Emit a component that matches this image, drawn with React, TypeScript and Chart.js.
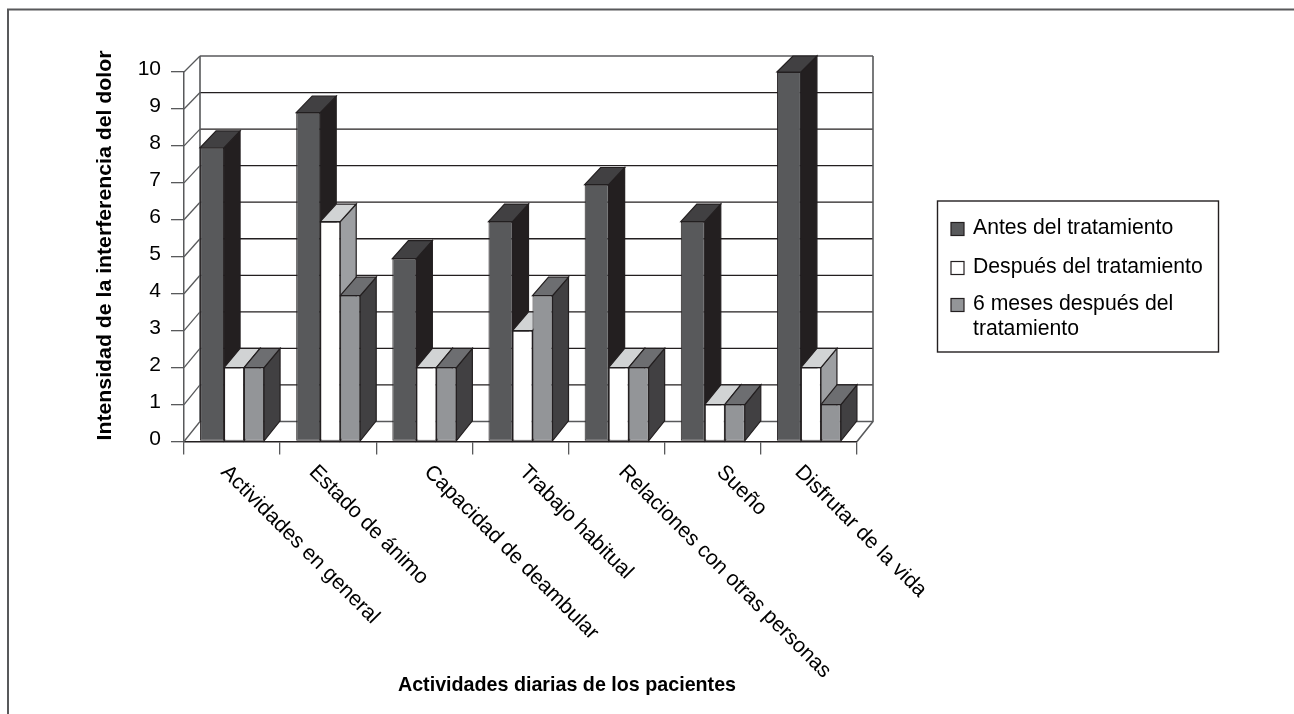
import React, { useEffect, useRef } from "react";
import { Chart, registerables } from "chart.js";

Chart.register(...registerables);

const categories = [
  "Actividades en general",
  "Estado de ánimo",
  "Capacidad de deambular",
  "Trabajo habitual",
  "Relaciones con otras personas",
  "Sueño",
  "Disfrutar de la vida",
];
const antes = [7.95, 8.9, 4.95, 5.95, 6.95, 5.95, 10];
const despues = [2, 5.95, 2, 3, 2, 1, 2];
const seisMeses = [2, 3.95, 2, 3.95, 2, 1, 1];
const seriesNames = ["Antes del tratamiento", "Después del tratamiento", "6 meses después del tratamiento"];
const yTitle = "Intensidad de la interferencia del dolor";
const xTitle = "Actividades diarias de los pacientes";

const FONT = '"Liberation Sans", Arial, sans-serif';
const INK = "#231f20";
const FRAME = "#58595b";
const front = ["#58595b", "#ffffff", "#939598"];
const side = ["#231f20", "#9d9fa2", "#414042"];
const top = ["#414042", "#d1d3d4", "#6d6e71"];
const barWidths = [24, 20, 20];
const labelNudge = [-12, -20, -1, -2, 1, 3, -15];
const depthX = 16;
const depthY = (v: number) => 20 - 0.4 * v;

const poly = (ctx: CanvasRenderingContext2D, pts: number[][], fill: string) => {
  ctx.beginPath();
  pts.forEach(([x, y], i) => (i ? ctx.lineTo(x, y) : ctx.moveTo(x, y)));
  ctx.closePath();
  ctx.fillStyle = fill;
  ctx.fill();
  ctx.strokeStyle = INK;
  ctx.lineWidth = 1.2;
  ctx.stroke();
};

const threeD = {
  id: "threeD",
  afterDatasetsUpdate(chart: any) {
    const gap = barWidths.reduce((a, b) => a + b, 0);
    categories.forEach((_, i) => {
      let left = chart.scales.x.getPixelForValue(i) - gap / 2;
      barWidths.forEach((w, d) => {
        const el = chart.getDatasetMeta(d).data[i];
        el.width = w;
        el.x = left + w / 2;
        left += w;
      });
    });
  },
  beforeDraw(chart: any) {
    const { ctx, width, height } = chart;
    ctx.save();
    ctx.fillStyle = "#fff";
    ctx.fillRect(0, 0, width, height);
    ctx.strokeStyle = FRAME;
    ctx.lineWidth = 2;
    ctx.beginPath();
    ctx.moveTo(8, height);
    ctx.lineTo(8, 9.5);
    ctx.lineTo(width, 9.5);
    ctx.stroke();
    ctx.restore();
  },
  beforeDatasetsDraw(chart: any) {
    const { ctx, chartArea: a, scales } = chart;
    const y = scales.y;
    const backY = (v: number) => y.getPixelForValue(v) - depthY(v);
    ctx.save();
    // gridlines on the back wall and the left wall
    y.ticks.forEach((t: any) => {
      const v = t.value;
      ctx.strokeStyle = v === 0 || v === 10 ? FRAME : INK;
      ctx.lineWidth = 1.3;
      ctx.beginPath();
      ctx.moveTo(a.left + depthX, backY(v));
      ctx.lineTo(a.right + depthX, backY(v));
      ctx.stroke();
      ctx.strokeStyle = FRAME;
      ctx.beginPath();
      ctx.moveTo(a.left, y.getPixelForValue(v));
      ctx.lineTo(a.left + depthX, backY(v));
      ctx.stroke();
    });
    ctx.strokeStyle = FRAME;
    ctx.lineWidth = 1.6;
    ctx.beginPath();
    ctx.moveTo(a.left + depthX, backY(10));
    ctx.lineTo(a.left + depthX, backY(0));
    ctx.moveTo(a.right + depthX, backY(10));
    ctx.lineTo(a.right + depthX, backY(0));
    ctx.lineTo(a.right, y.getPixelForValue(0));
    ctx.stroke();
    // side and top faces of the bars, painted back to front
    categories.forEach((_, i) => {
      [0, 1, 2].forEach((d) => {
        const el = chart.getDatasetMeta(d).data[i];
        const v = chart.data.datasets[d].data[i];
        const l = el.x - el.width / 2;
        const r = el.x + el.width / 2;
        const up = depthY(v);
        const down = depthY(0);
        poly(ctx, [[r, el.y], [r + depthX, el.y - up], [r + depthX, el.base - down], [r, el.base]], side[d]);
        poly(ctx, [[l, el.y], [l + depthX, el.y - up], [r + depthX, el.y - up], [r, el.y]], top[d]);
      });
    });
    ctx.restore();
  },
  afterDraw(chart: any) {
    const { ctx, chartArea: a, scales } = chart;
    ctx.save();
    ctx.fillStyle = "#000";
    // rotated category labels
    ctx.font = `21.2px ${FONT}`;
    ctx.textAlign = "left";
    ctx.textBaseline = "alphabetic";
    categories.forEach((label, i) => {
      ctx.save();
      ctx.translate(scales.x.getPixelForValue(i) + labelNudge[i], a.bottom + 31.5);
      ctx.rotate(Math.PI / 4);
      ctx.fillText(label, 0, 0);
      ctx.restore();
    });
    // axis titles
    ctx.font = `bold 19.7px ${FONT}`;
    ctx.textAlign = "center";
    ctx.fillText(xTitle, 567, 690.5);
    ctx.save();
    ctx.translate(111, 245.5);
    ctx.rotate(-Math.PI / 2);
    ctx.scale(1.08, 1);
    ctx.fillText(yTitle, 0, 0);
    ctx.restore();
    // legend
    ctx.strokeStyle = INK;
    ctx.lineWidth = 1.4;
    ctx.strokeRect(937.5, 201, 281, 151);
    ctx.textAlign = "left";
    ctx.font = `21.2px ${FONT}`;
    const baselines = [234, 273, 310];
    seriesNames.forEach((name, d) => {
      const words = name.split(" ");
      const lines: string[] = [];
      let cur = "";
      words.forEach((w) => {
        const next = cur ? `${cur} ${w}` : w;
        if (ctx.measureText(next).width > 236) {
          lines.push(cur);
          cur = w;
        } else cur = next;
      });
      lines.push(cur);
      ctx.fillStyle = front[d];
      ctx.fillRect(951, baselines[d] - 11.5, 13, 13);
      ctx.strokeStyle = INK;
      ctx.lineWidth = 1.2;
      ctx.strokeRect(951, baselines[d] - 11.5, 13, 13);
      ctx.fillStyle = "#000";
      lines.forEach((ln, k) => ctx.fillText(ln, 973, baselines[d] + k * 25));
    });
    ctx.restore();
  },
};

export default function App() {
  const ref = useRef<HTMLCanvasElement>(null);
  useEffect(() => {
    const chart = new Chart(ref.current!, {
      type: "bar",
      data: {
        labels: categories,
        datasets: [antes, despues, seisMeses].map((data, d) => ({
          label: seriesNames[d],
          data,
          backgroundColor: front[d],
          borderColor: INK,
          borderWidth: 1,
          borderSkipped: false,
          categoryPercentage: 2 / 3,
          barPercentage: 1,
        })),
      },
      options: {
        responsive: false,
        animation: false,
        devicePixelRatio: 1,
        layout: { padding: { left: 0, top: 72, right: 437, bottom: 0 } },
        plugins: { legend: { display: false }, tooltip: { enabled: false } },
        scales: {
          x: {
            afterFit: (s: any) => {
              s.height = 714 - 441.5;
            },
            grid: { drawOnChartArea: false, drawTicks: true, tickLength: 13, color: FRAME, lineWidth: 1.3 },
            border: { color: INK, width: 1.4 },
            ticks: { display: false },
          },
          y: {
            min: 0,
            max: 10,
            afterFit: (s: any) => {
              s.width = 184;
            },
            grid: { drawOnChartArea: false, drawTicks: true, tickLength: 13, color: FRAME, lineWidth: 1.3 },
            border: { color: FRAME, width: 1.5 },
            ticks: {
              stepSize: 1,
              color: "#000",
              padding: 10,
              labelOffset: -2.5,
              font: { family: FONT, size: 21 },
            },
          },
        },
      },
      plugins: [threeD],
    } as any);
    return () => chart.destroy();
  }, []);
  return (
    <canvas
      ref={ref}
      width={1294}
      height={714}
      style={{ position: "fixed", left: 0, top: 0, width: 1294, height: 714, display: "block" }}
    />
  );
}
